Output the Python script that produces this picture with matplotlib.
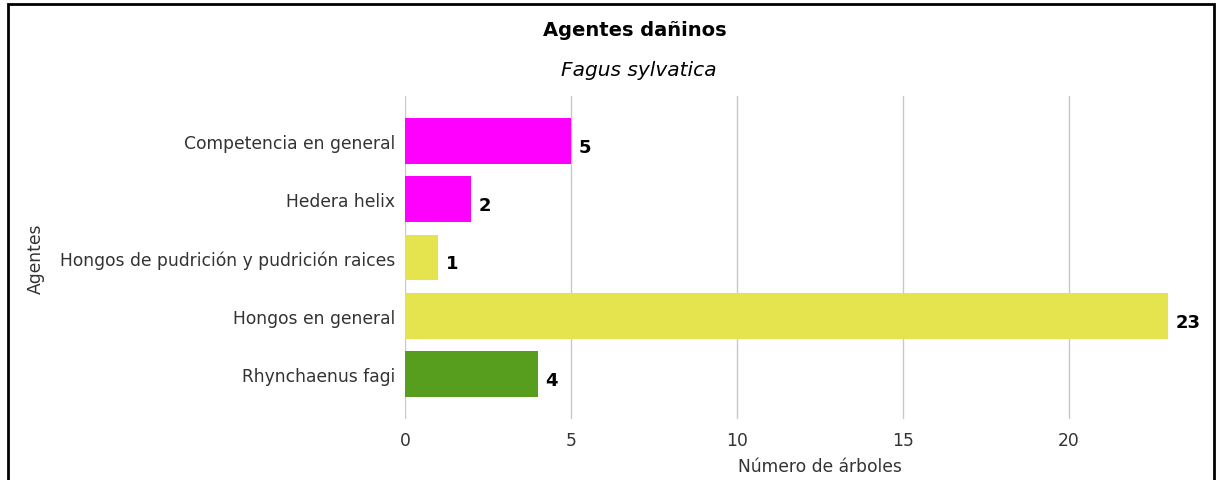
import matplotlib
matplotlib.use("Agg")
import matplotlib.pyplot as plt
from matplotlib.patches import Rectangle

categories = ["Competencia en general", "Hedera helix",
              "Hongos de pudrición y pudrición raices", "Hongos en general",
              "Rhynchaenus fagi"]
values = [5, 2, 1, 23, 4]
colors = ["#FF00FF", "#FF00FF", "#E6E44E", "#E6E44E", "#579E1E"]
xticks = [0, 5, 10, 15, 20]

W, H = 1219, 481
fig = plt.figure(figsize=(W / 100, H / 100), dpi=100)
plt.rcParams['font.family'] = ['DejaVu Sans']

left, right, top, bottom = 405, 1194, 97, 420
ax = fig.add_axes([left / W, 1 - bottom / H, (right - left) / W, (bottom - top) / H])

fs = 12.3
ypos = list(range(len(categories)))
ax.barh(ypos, values, height=0.78, color=colors, zorder=3)
for y, v in zip(ypos, values):
    ax.text(v + 0.22, y + 0.1, str(v), va='center', ha='left',
            fontsize=13, fontweight='bold', color='black', zorder=4)

ax.set_xlim(0, 23.77)
ax.set_ylim(4.77, -0.77)
ax.set_yticks(ypos)
ax.set_yticklabels(categories, fontsize=fs, color='#333333')
ax.set_xticks(xticks)
ax.set_xticklabels([str(t) for t in xticks], fontsize=fs, color='#333333')
ax.tick_params(axis='both', length=0)
ax.tick_params(axis='y', pad=7)
ax.tick_params(axis='x', pad=9)
ax.grid(axis='x', color='#c8c8c8', linewidth=1, zorder=0)
for s in ax.spines.values():
    s.set_visible(False)

fig.text(820 / W, 1 - 467 / H, "Número de árboles", ha='center', va='center',
         fontsize=fs, color='#333333')
fig.text(36 / W, 1 - 259 / H, "Agentes", ha='center', va='center',
         rotation=90, fontsize=fs, color='#333333')
fig.text(635 / W, 1 - 31 / H, "Agentes dañinos", ha='center', va='center',
         fontsize=14, fontweight='bold', color='black')
fig.text(639 / W, 1 - 70 / H, "Fagus sylvatica", ha='center', va='center',
         fontsize=14.5, fontstyle='italic', color='black')

fig.patches.append(Rectangle((7.5 / W, -0.05), (1213.5 - 7.5) / W, 1 - 4.5 / H + 0.05,
                             transform=fig.transFigure, fill=False,
                             edgecolor='black', linewidth=2))

fig.savefig("out.png", dpi=100)
